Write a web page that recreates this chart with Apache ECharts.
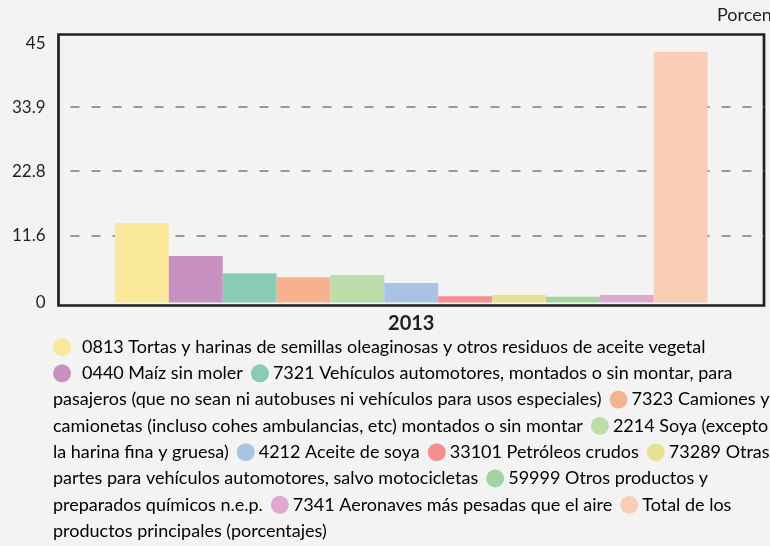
<!DOCTYPE html>
<html>
<head>
<meta charset="utf-8">
<script src="https://cdn.jsdelivr.net/npm/echarts@6/dist/echarts.min.js"></script>
<style>
  html, body { margin: 0; padding: 0; background: #f3f3f3; }
  #chart { width: 770px; height: 546px; }
</style>
</head>
<body>
<div id="chart"></div>
<script>
const years = ['2013']
const names = [
  '0813 Tortas y harinas de semillas oleaginosas y otros residuos de aceite vegetal',
  '0440 Maíz sin moler',
  '7321 Vehículos automotores, montados o sin montar, para pasajeros (que no sean ni autobuses ni vehículos para usos especiales)',
  '7323 Camiones y camionetas (incluso cohes ambulancias, etc) montados o sin montar',
  '2214 Soya (excepto la harina fina y gruesa)',
  '4212 Aceite de soya',
  '33101 Petróleos crudos',
  '73289 Otras partes para vehículos automotores, salvo motocicletas',
  '59999 Otros productos y preparados químicos n.e.p.',
  '7341 Aeronaves más pesadas que el aire',
  'Total de los productos principales (porcentajes)'
]
const values = [13.8, 8.1, 5.1, 4.4, 4.8, 3.4, 1.1, 1.3, 1.0, 1.3, 43.5]
const yTicks = [0, 11.6, 22.8, 33.9, 45]
const unitLabel = 'Porcentajes'

const colors = ['#f9e89a', '#c991c2', '#89cbb6', '#f6b18f', '#bcdcaa', '#a9c4e3',
  '#f58f91', '#e7e194', '#a3d3a0', '#dea9cf', '#facdb6']
const textColor = '#231f20'
const font = 'Lato'

// legend paragraph: dots inline, wrapped like the original
const breakAfter = ['aceite vegetal', 'montar, para', 'Camiones y', '(excepto', 'Otras',
  'Otros productos y', 'Total de los']
let para = names.map((n, i) => '§' + i + '¤' + n).join('¦')
let cursor = 0
breakAfter.forEach(p => {
  const idx = para.indexOf(p, cursor)
  if (idx < 0) return
  let k = idx + p.length
  while (para[k] === ' ' || para[k] === '¦') k++
  para = para.slice(0, idx + p.length) + '\n' + para.slice(k)
  cursor = idx + p.length + 1
})
const richText = '{t|' + para
  .replace(/¦/g, '}{sp|}{t|')
  .replace(/§(\d+)¤/g, (m, i) => '}{d' + i + '|}{' + (i < 2 ? 'gw' : 'g') + '|}{t|') + '}'

const rich = {
  t: { fontSize: 18, fontFamily: font, color: textColor, lineHeight: 26.3 },
  sp: { width: 8, height: 18 },
  g: { width: 4, height: 18 },
  gw: { width: 11, height: 18 }
}
colors.forEach((c, i) => {
  rich['d' + i] = { width: 18, height: 18, borderRadius: 9, backgroundColor: c }
})

const chart = echarts.init(document.getElementById('chart'))

// plot frame is a bit taller than the 0..45 value range
const frame = { x: 58.5, y: 34.5, w: 705.5, h: 271 }

const option = {
  backgroundColor: '#f3f3f3',
  animation: false,
  textStyle: { fontFamily: font },
  grid: {
    left: 58.5,
    top: 43.1,
    right: 6,
    bottom: 243.4,
    containLabel: false
  },
  xAxis: {
    type: 'category',
    data: years,
    axisLine: { show: false },
    axisTick: { show: false },
    axisLabel: { fontSize: 20, fontWeight: 'bold', color: textColor, margin: 11 }
  },
  yAxis: {
    type: 'value',
    min: 0,
    max: 45,
    axisLine: { show: false },
    axisTick: { show: false, customValues: yTicks },
    axisLabel: { customValues: yTicks, fontSize: 17, color: textColor, margin: 13 },
    splitLine: {
      showMinLine: false,
      showMaxLine: false,
      lineStyle: { color: '#999', width: 2, type: [9, 12], dashOffset: 9 }
    }
  },
  series: names.map((n, i) => ({
    name: n,
    type: 'bar',
    data: [values[i]],
    itemStyle: { color: colors[i] },
    barGap: '0%',
    barCategoryGap: '16%'
  })),
  graphic: [
    {
      type: 'rect',
      z: -1,
      shape: { x: frame.x, y: frame.y, width: frame.w, height: frame.h },
      style: { fill: 'none', stroke: textColor, lineWidth: 2.7 }
    },
    {
      type: 'text',
      left: 717,
      top: 6,
      style: { text: unitLabel, fontSize: 18, fontFamily: font, fill: textColor }
    },
    {
      type: 'text',
      left: 53,
      top: 338,
      style: { text: richText, rich: rich }
    }
  ]
}

chart.setOption(option)
</script>
</body>
</html>
